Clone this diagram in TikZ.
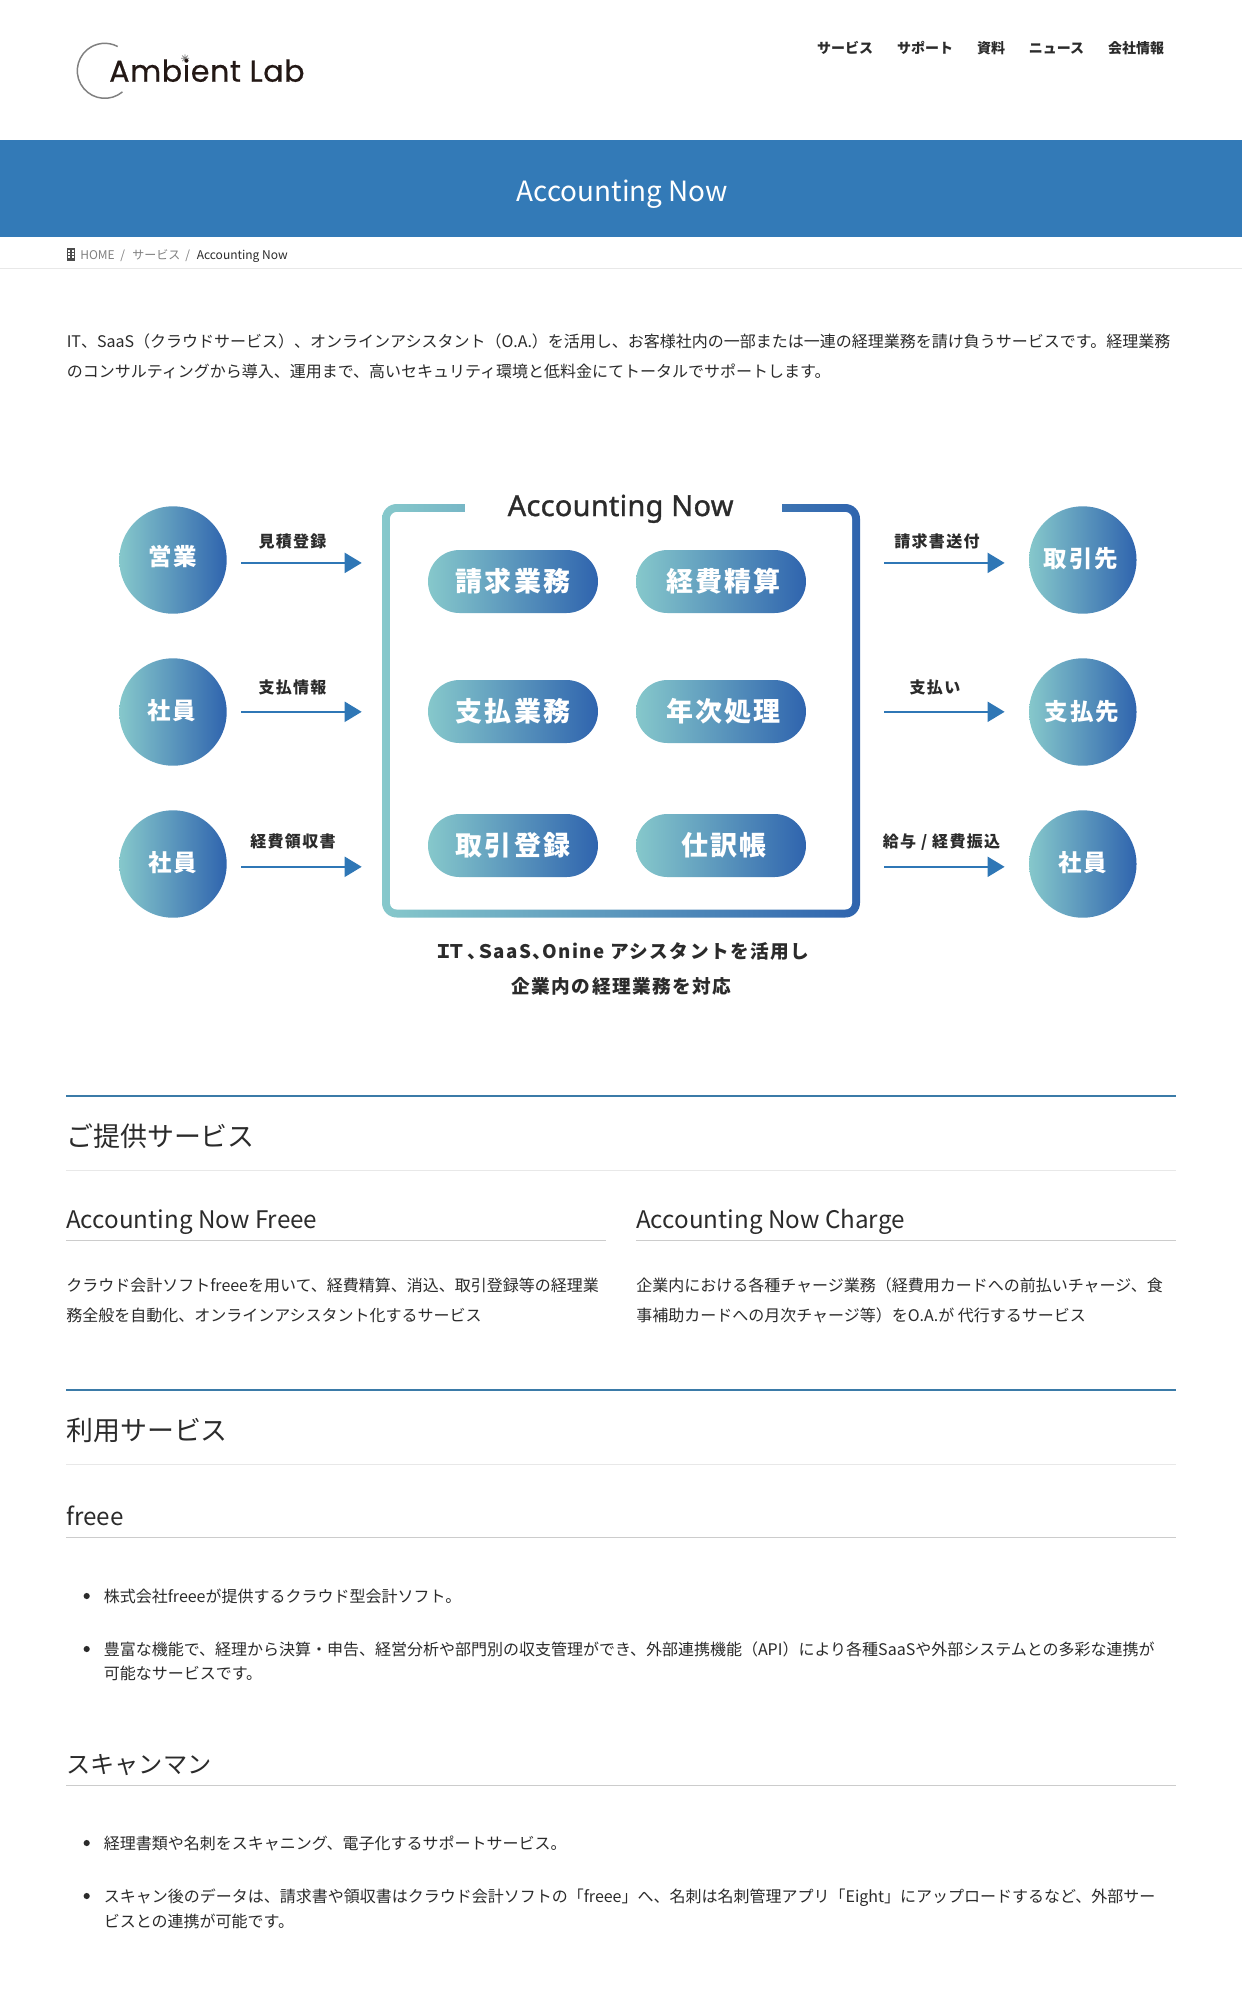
\documentclass[tikz,border=0pt]{standalone}
\usepackage{fontspec}
\usetikzlibrary{arrows.meta,shapes.misc,shadings}
\setmainfont{Noto Sans CJK JP}
\newfontfamily\spacedfont[LetterSpace=8]{Noto Sans CJK JP}
\newfontfamily\logofont[LetterSpace=2,FakeBold=0.6]{Poppins}
\newfontfamily\titlefont[LetterSpace=1,FakeBold=1.2]{Noto Sans}
\definecolor{gradleft}{HTML}{86C8CB}
\definecolor{gradright}{HTML}{2F64AE}
\definecolor{arrowblue}{HTML}{2F77B6}
\definecolor{bannerblue}{HTML}{337AB7}
\definecolor{rulegrey}{HTML}{CCCCCC}
\definecolor{paleGrey}{HTML}{E8E8E8}
\definecolor{ruleblue}{HTML}{3B7BA8}
\definecolor{inkgrey}{HTML}{2B2B2B}
\definecolor{logoink}{HTML}{231815}
\tikzset{
  ht/.style={text height=#1*0.88pt,text depth=#1*0.12pt},
  txt/.style={anchor=west,inner sep=0pt,text=inkgrey},
  bodytxt/.style={txt,ht=12,font=\fontsize{12}{14}\selectfont},
  hbig/.style={txt,ht=20.2,font=\fontsize{20.2}{24}\selectfont},
  hsmall/.style={txt,ht=18.15,font=\fontsize{18.15}{22}\selectfont},
  navtxt/.style={txt,anchor=center,ht=10.5,font=\fontsize{10.5}{12}\selectfont\bfseries},
  crumb/.style={txt,ht=9,font=\fontsize{9}{11}\selectfont},
  ball/.style={circle,inner sep=0pt,minimum size=80.6pt,left color=gradleft,right color=gradright},
  balltxt/.style={inner sep=0pt,text=white,ht=17.6,font=\fontsize{17.6}{20}\spacedfont\bfseries},
  pill/.style={rounded rectangle,inner sep=0pt,minimum width=127.5pt,minimum height=47.25pt,left color=gradleft,right color=gradright,text=white,ht=20.25,font=\fontsize{20.25}{23}\spacedfont\bfseries},
  flowtxt/.style={inner sep=0pt,text=inkgrey,ht=12,font=\fontsize{12}{14}\spacedfont\bfseries},
  notetxt/.style={inner sep=0pt,text=inkgrey,ht=14,font=\fontsize{14}{17}\spacedfont\bfseries},
  flow/.style={draw=arrowblue,line width=1.5pt,-{Triangle[length=12.75pt,width=15pt,fill=arrowblue]}},
  dot/.style={circle,fill=inkgrey,inner sep=0pt,minimum size=4.6pt}
}
\begin{document}
\begin{tikzpicture}[x=0.75pt,y=0.75pt,yscale=-1,xscale=1]
\useasboundingbox (0,0) rectangle (1242,2000);
\fill [white] (0,0) rectangle (1242,2000);

%Shape: Logo ring
\draw [color=gray,line width=1.1pt] (104.8,70.8) ++(50:27.5) arc (50:298:27.5);
%Straight Lines: logo spark
\draw [color=gray,line width=0.5pt] (181,58.3) -- (189,58.3) (185,54.3) -- (185,62.3) (182.2,55.5) -- (187.8,61.1) (182.2,61.1) -- (187.8,55.5);
% Text Node
\draw (109,81.7) node (logo) [anchor=base west,inner sep=0pt,text=logoink,font=\fontsize{22.6}{24}\logofont] {Ambient Lab};
% Text Node
\draw (845,47.7) node (navone) [navtxt] {サービス};
\draw (925,47.7) node (navtwo) [navtxt] {サポート};
\draw (991,47.7) node (navthree) [navtxt] {資料};
\draw (1056.5,47.7) node (navfour) [navtxt] {ニュース};
\draw (1136,47.7) node (navfive) [navtxt] {会社情報};

%Shape: Banner
\fill [bannerblue] (0,140) rectangle (1242,237);
% Text Node
\draw (622.5,190.7) node (bannertxt) [inner sep=0pt,text=white,ht=20.9,font=\fontsize{20.9}{26}\selectfont] {Accounting Now};

%Shape: Breadcrumb icon
\fill [gray!60!black] (66.7,248) rectangle (75.3,260.8);
\foreach \wx in {68.3,71.9} {
  \foreach \wy in {250,253,256} {
    \fill [white] (\wx,\wy) rectangle ++(2,1.8);
  }
}
% Text Node
\draw (80,255) node (crumbhome) [crumb,text=gray] {HOME};
\draw (122.8,255) node (crumbsepone) [crumb,anchor=center,text=gray] {/};
\draw (132,255) node (crumbserv) [crumb,text=gray] {サービス};
\draw (187.7,255) node (crumbseptwo) [crumb,anchor=center,text=gray] {/};
\draw (196.5,255) node (crumbnow) [crumb] {Accounting Now};
%Straight Lines
\draw [color=paleGrey] (0,268.5) -- (1242,268.5);

% Text Node
\draw (66.5,341.7) node (introone) [bodytxt] {IT、SaaS（クラウドサービス）、オンラインアシスタント（O.A.）を活用し、お客様社内の一部または一連の経理業務を請け負うサービスです。経理業務};
\draw (66.5,371.7) node (introtwo) [bodytxt] {のコンサルティングから導入、運用まで、高いセキュリティ環境と低料金にてトータルでサポートします。};

%Shape: Frame
\path [left color=gradleft,right color=gradright,rounded corners=11pt] (382,504) rectangle (860,917.5);
\fill [white,rounded corners=5pt] (390,512) rectangle (852,909.5);
\fill [white] (465,500) rectangle (782,516);
% Text Node
\draw (620.6,505) node (frametitle) [inner sep=0pt,text=inkgrey,ht=21.7,font=\fontsize{21.7}{24}\titlefont] {Accounting Now};

%Shape: Circle
\draw (173,560) node (eigyo) [ball] {};
\draw (173,712) node (shainone) [ball] {};
\draw (173,864) node (shaintwo) [ball] {};
\draw (1082.8,560) node (torihiki) [ball] {};
\draw (1082.8,712) node (shiharai) [ball] {};
\draw (1082.8,864) node (shainthree) [ball] {};
% Text Node
\draw (172.5,556.4) node (eigyotxt) [balltxt] {営業};
\draw (171.5,711) node (shainonetxt) [balltxt] {社員};
\draw (173,862.9) node (shaintwotxt) [balltxt] {社員};
\draw (1081,559) node (torihikitxt) [balltxt] {取引先};
\draw (1082,711.8) node (shiharaitxt) [balltxt] {支払先};
\draw (1083,862.9) node (shainthreetxt) [balltxt] {社員};

%Shape: Pill
\draw (513,581.5) node (seikyu) [pill] {請求業務};
\draw (721,581.5) node (keihi) [pill] {\kern4pt 経費精算};
\draw (513,711.5) node (shiharaigyomu) [pill] {支払業務};
\draw (721,711.5) node (nenji) [pill] {\kern4pt 年次処理};
\draw (513,845.5) node (torokugyomu) [pill] {取引登録};
\draw (721,845.5) node (shiwake) [pill] {\kern4pt 仕訳帳};

%Straight Lines
\coordinate (eigyoout) at (241,562.9);
\coordinate (eigyoin) at (361.7,562.9);
\coordinate (shainoneout) at (241,711.8);
\coordinate (shainonein) at (361.7,711.8);
\coordinate (shaintwoout) at (241,866.8);
\coordinate (shaintwoin) at (361.7,866.8);
\coordinate (torihikiout) at (884,562.9);
\coordinate (torihikiin) at (1004.6,562.9);
\coordinate (shiharaiout) at (884,711.8);
\coordinate (shiharaiin) at (1004.6,711.8);
\coordinate (shainthreeout) at (884,866.8);
\coordinate (shainthreein) at (1004.6,866.8);
\draw [flow] (eigyoout) -- (eigyoin);
\draw [flow] (shainoneout) -- (shainonein);
\draw [flow] (shaintwoout) -- (shaintwoin);
\draw [flow] (torihikiout) -- (torihikiin);
\draw [flow] (shiharaiout) -- (shiharaiin);
\draw [flow] (shainthreeout) -- (shainthreein);
% Text Node
\draw (292.5,541) node (mitsumori) [flowtxt] {見積登録};
\draw (292.5,687) node (shiharaijoho) [flowtxt] {支払情報};
\draw (293,841.4) node (ryoshu) [flowtxt] {経費領収書};
\draw (937,541) node (sofu) [flowtxt] {請求書送付};
\draw (935,687) node (shiharaii) [flowtxt] {支払い};
\draw (941.5,841.4) node (kyuyo) [flowtxt] {給与 / 経費振込};
\draw (622,951) node (noteone) [notetxt] {Ｉ\kern-.3emＴ、\kern-.5emＳ\kern-.1em aaS、\kern-.5em Onine アシスタントを活用し};
\draw (621.5,986) node (notetwo) [notetxt] {企業内の経理業務を対応};

%Straight Lines
\draw [color=ruleblue,line width=1.5pt] (66,1095.7) -- (1175.7,1095.7);
\draw [color=paleGrey] (66,1170.3) -- (1175.7,1170.3);
\draw [color=rulegrey] (66,1240.3) -- (606.3,1240.3);
\draw [color=rulegrey] (636,1240.3) -- (1175.7,1240.3);
\draw [color=ruleblue,line width=1.5pt] (66,1389.7) -- (1175.7,1389.7);
\draw [color=paleGrey] (66,1464.3) -- (1175.7,1464.3);
\draw [color=rulegrey] (66,1537.3) -- (1175.7,1537.3);
\draw [color=rulegrey] (66,1785.3) -- (1175.7,1785.3);

% Text Node
\draw (66,1136.7) node (provided) [hbig] {ご提供サービス};
\draw (66,1219) node (freeehead) [hsmall] {Accounting Now Freee};
\draw (636,1219) node (chargehead) [hsmall] {Accounting Now Charge};
\draw (66,1285.7) node (freeeone) [bodytxt] {クラウド会計ソフトfreeeを用いて、経費精算、消込、取引登録等の経理業};
\draw (66,1315.3) node (freeetwo) [bodytxt] {務全般を自動化、オンラインアシスタント化するサービス};
\draw (636,1285.7) node (chargeone) [bodytxt] {企業内における各種チャージ業務（経費用カードへの前払いチャージ、食};
\draw (636,1315.3) node (chargetwo) [bodytxt] {事補助カードへの月次チャージ等）をO.A.が 代行するサービス};
\draw (66,1430.7) node (usedhead) [hbig] {利用サービス};
\draw (66,1516) node (freeetitle) [hsmall] {freee};
\draw (86.7,1596) node (dotone) [dot] {};
\draw (103.5,1596) node (listone) [bodytxt] {株式会社freeeが提供するクラウド型会計ソフト。};
\draw (86.7,1649) node (dottwo) [dot] {};
\draw (103.5,1649) node (listtwoa) [bodytxt] {豊富な機能で、経理から決算・申告、経営分析や部門別の収支管理ができ、外部連携機能（API）により各種SaaSや外部システムとの多彩な連携が};
\draw (103.5,1673) node (listtwob) [bodytxt] {可能なサービスです。};
\draw (66,1764) node (scanhead) [hsmall] {スキャンマン};
\draw (86.7,1843) node (dotthree) [dot] {};
\draw (103.5,1843) node (listthree) [bodytxt] {経理書類や名刺をスキャニング、電子化するサポートサービス。};
\draw (86.7,1896) node (dotfour) [dot] {};
\draw (103.5,1896) node (listfoura) [bodytxt] {スキャン後のデータは、請求書や領収書はクラウド会計ソフトの「freee」へ、名刺は名刺管理アプリ「Eight」にアップロードするなど、外部サー};
\draw (103.5,1921) node (listfourb) [bodytxt] {ビスとの連携が可能です。};

\end{tikzpicture}
\end{document}
